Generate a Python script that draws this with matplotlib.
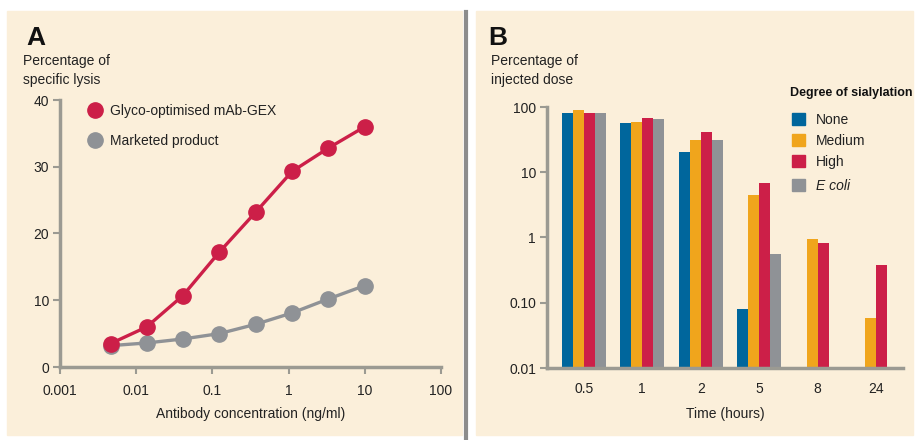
import numpy as np
import matplotlib
matplotlib.use("Agg")
import matplotlib.pyplot as plt
from matplotlib.patches import Rectangle
from matplotlib.lines import Line2D

plt.rcParams['font.family'] = ['Liberation Sans', 'DejaVu Sans']

# panel A data
conc = [0.0046, 0.0137, 0.041, 0.123, 0.37, 1.11, 3.33, 10]
lysis_gex = [3.5, 6.0, 10.7, 17.2, 23.2, 29.3, 32.8, 36.0]
lysis_marketed = [3.2, 3.6, 4.2, 5.0, 6.4, 8.1, 10.2, 12.2]
a_xticks = [0.001, 0.01, 0.1, 1, 10, 100]
a_xticklabels = ["0.001", "0.01", "0.1", "1", "10", "100"]
a_yticks = [0, 10, 20, 30, 40]

# panel B data
times = ["0.5", "1", "2", "5", "8", "24"]
none_ = [81, 56, 20.5, 0.079, np.nan, np.nan]
medium = [89, 59, 31.5, 4.5, 0.96, 0.059]
high = [81, 68, 41, 6.9, 0.81, 0.385]
ecoli = [80, 65, 31.5, 0.56, np.nan, np.nan]
b_yticks = [0.01, 0.1, 1, 10, 100]
b_yticklabels = ["0.01", "0.10", "1", "10", "100"]

RED = "#cc1f48"
GREY = "#8f9296"
BLUE = "#00669c"
ORANGE = "#f0a51c"
BEIGE = "#fbefda"
SPINE = "#9b9a92"
TXT = "#222222"

W, H = 917, 440
fig = plt.figure(figsize=(9.17, 4.40), dpi=100)
fig.patch.set_facecolor("white")


def fx(px):
    return px / W


def fy(py):
    return 1 - py / H


fig.patches.append(Rectangle((fx(7), fy(435)), fx(455), (435 - 11) / H,
                             transform=fig.transFigure, color=BEIGE, zorder=-5))
fig.patches.append(Rectangle((fx(476), fy(435)), fx(437), (435 - 11) / H,
                             transform=fig.transFigure, color=BEIGE, zorder=-5))
fig.lines.append(Line2D([fx(466), fx(466)], [fy(12), fy(440)], transform=fig.transFigure,
                        color="#8c8c8c", lw=3.0, zorder=-4))


def style(ax):
    ax.set_facecolor("none")
    for s in ["top", "right"]:
        ax.spines[s].set_visible(False)
    for s in ["left", "bottom"]:
        ax.spines[s].set_color(SPINE)
        ax.spines[s].set_linewidth(2.5)
    ax.tick_params(which="major", length=5, width=1.5, color=SPINE, labelsize=10,
                   labelcolor=TXT, pad=3)
    ax.tick_params(which="minor", length=0)


# ---- panel A
axA = fig.add_axes([fx(60), fy(367), fx(441 - 60), (367 - 100) / H])
style(axA)
axA.set_xscale("log")
axA.plot(conc, lysis_marketed, "-o", color=GREY, lw=2.4, ms=11, zorder=3,
         label="Marketed product", clip_on=False)
axA.plot(conc, lysis_gex, "-o", color=RED, lw=2.4, ms=11, zorder=4,
         label="Glyco-optimised mAb-GEX", clip_on=False)
axA.set_xlim(0.001, 100)
axA.set_ylim(0, 40)
axA.set_xticks(a_xticks)
axA.set_xticklabels(a_xticklabels)
axA.set_yticks(a_yticks)
axA.tick_params(axis="x", pad=7)
axA.set_xlabel("Antibody concentration (ng/ml)", fontsize=10, color=TXT, labelpad=7)
h, l = axA.get_legend_handles_labels()
legA = axA.legend([Line2D([], [], ls="", marker="o", ms=11, color=RED),
                   Line2D([], [], ls="", marker="o", ms=11, color=GREY)],
                  [l[1], l[0]], loc="upper left", bbox_to_anchor=(fx(82), fy(98)),
                  bbox_transform=fig.transFigure, frameon=False, fontsize=10,
                  handlelength=1.0, handletextpad=0.6, labelspacing=1.15,
                  borderaxespad=0)
for t in legA.get_texts():
    t.set_color(TXT)

fig.text(fx(26), fy(45), "A", fontsize=19, fontweight="bold", color="#111111")
fig.text(fx(23), fy(54), "Percentage of\nspecific lysis", fontsize=10, color=TXT,
         va="top", linespacing=1.45)

# ---- panel B
axB = fig.add_axes([fx(547), fy(368), fx(903 - 547), (368 - 107) / H])
style(axB)
axB.set_yscale("log")
x = np.arange(len(times))
bw = 0.188
series = [(none_, BLUE, "None"), (medium, ORANGE, "Medium"), (high, RED, "High"),
          (ecoli, GREY, "E coli")]
for i, (vals, c, lab) in enumerate(series):
    axB.bar(x + (i - 1.5) * bw, vals, bw, color=c, label=lab, zorder=2)
axB.set_ylim(0.01, 100)
axB.set_xlim(-0.63, 5.46)
axB.set_yticks(b_yticks)
axB.set_yticklabels(b_yticklabels)
axB.set_xticks(x)
axB.set_xticklabels(times)
axB.tick_params(axis="x", length=0, pad=10)
axB.set_xlabel("Time (hours)", fontsize=10, color=TXT, labelpad=8)

fig.text(fx(790), fy(93), "Degree of sialylation", fontsize=9, fontweight="bold",
         color="#111111", va="center")
sq = lambda c: Rectangle((0, 0), 1, 1, color=c)
legB = fig.legend([sq(BLUE), sq(ORANGE), sq(RED)], ["None", "Medium", "High"],
                  loc="upper left", bbox_to_anchor=(fx(792), fy(113)),
                  frameon=False, fontsize=10, handlelength=0.9, handleheight=0.9,
                  handletextpad=0.8, labelspacing=0.5, borderaxespad=0,
                  borderpad=0)
for t in legB.get_texts():
    t.set_color(TXT)
legB2 = fig.legend([sq(GREY)], ["E coli"], loc="upper left",
                   bbox_to_anchor=(fx(792), fy(179)), frameon=False, fontsize=10,
                   handlelength=0.9, handleheight=0.9, handletextpad=0.8,
                   borderaxespad=0, borderpad=0)
legB2.get_texts()[0].set_fontstyle("italic")
legB2.get_texts()[0].set_color(TXT)

fig.text(fx(488), fy(45), "B", fontsize=19, fontweight="bold", color="#111111")
fig.text(fx(491), fy(54), "Percentage of\ninjected dose", fontsize=10, color=TXT,
         va="top", linespacing=1.45)

fig.savefig("out.png", dpi=100)
